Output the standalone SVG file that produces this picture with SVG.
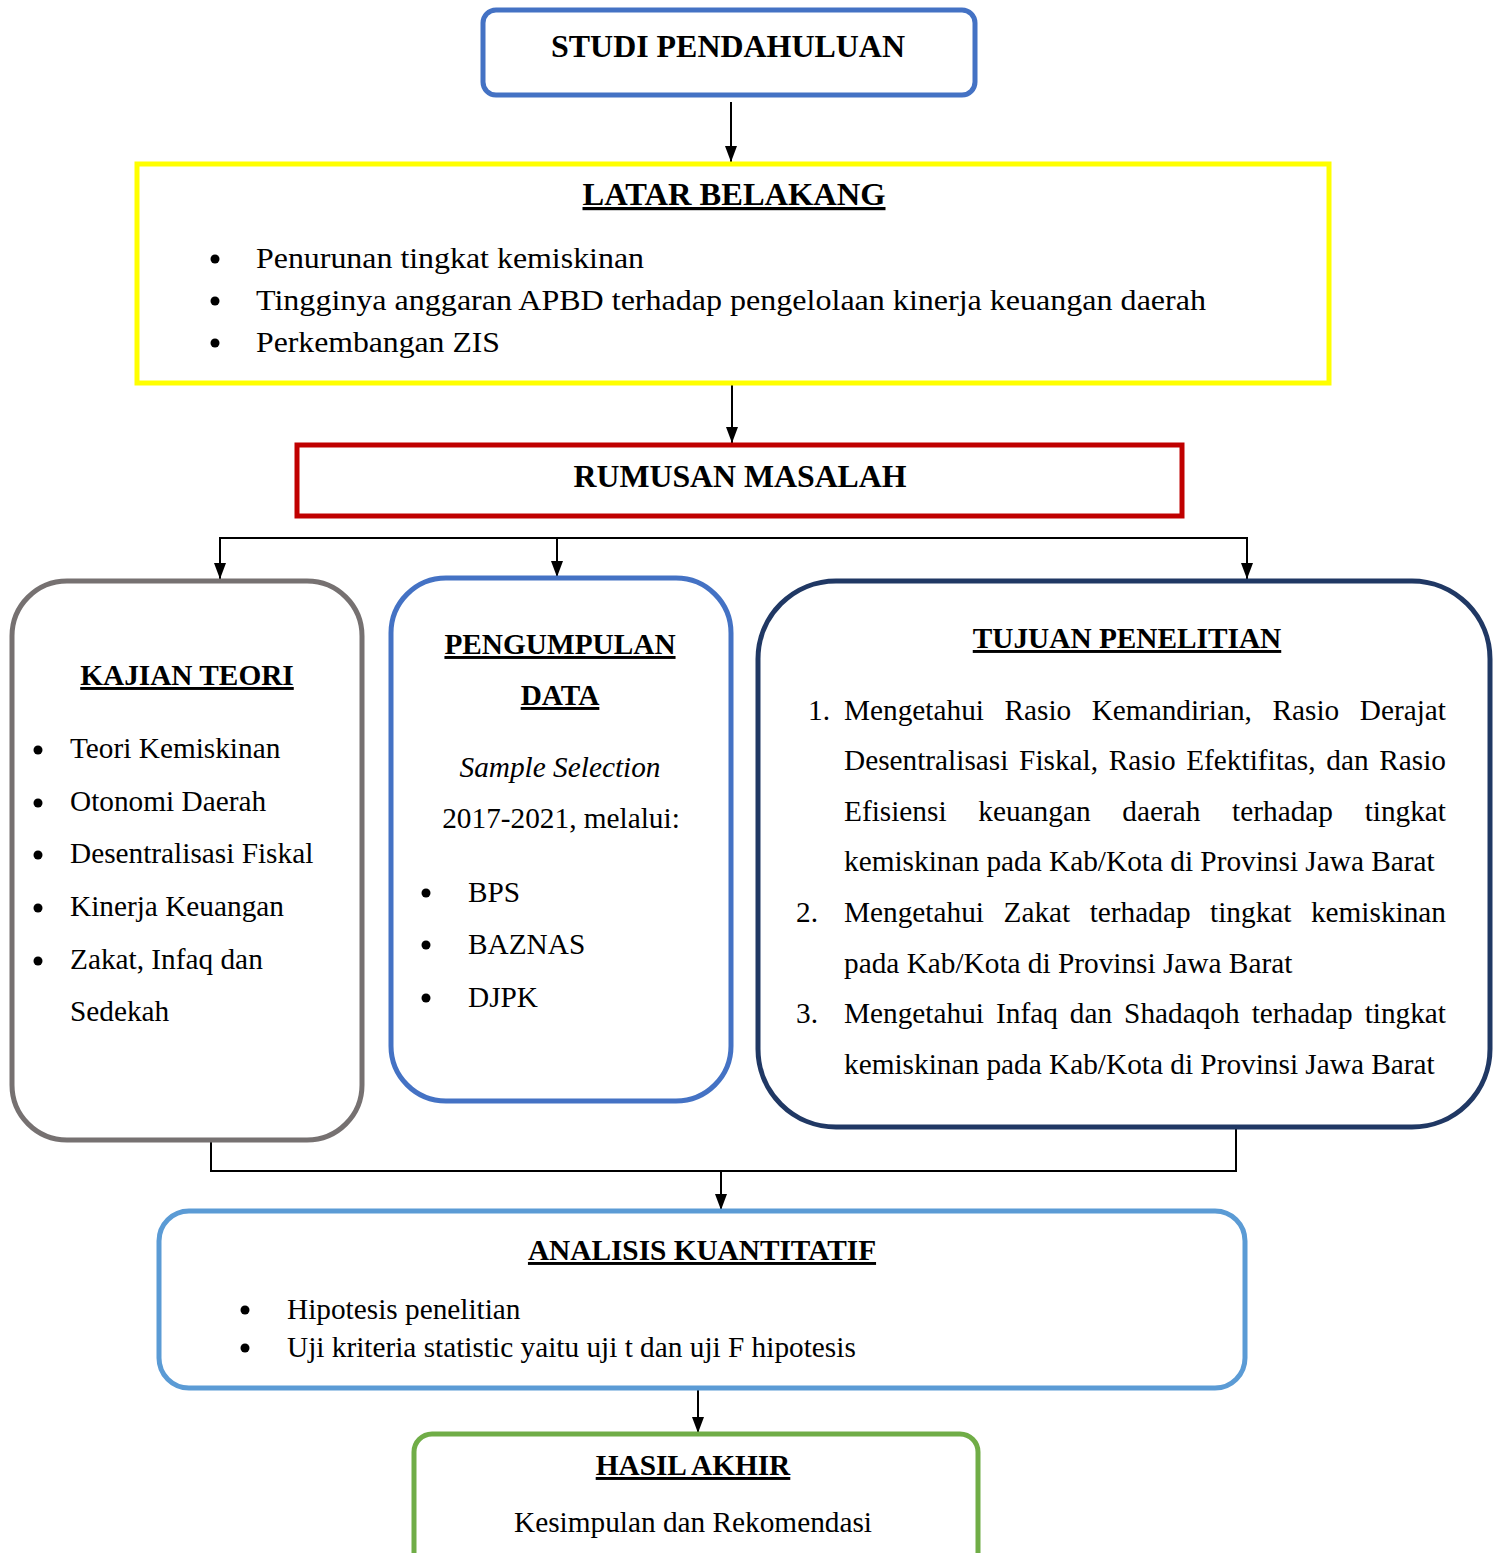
<svg xmlns="http://www.w3.org/2000/svg" width="1494" height="1553" viewBox="0 0 1494 1553">
<style>
text{font-family:"Liberation Serif","Times New Roman",serif;font-size:29.3px;fill:#000}
.b{font-weight:bold}
.u{text-decoration:underline}
.h{font-size:32px}
.box{fill:#fff;stroke-width:5}
.c{fill:none;stroke:#000;stroke-width:2}
.dot{fill:#000}
</style>
<defs>
<marker id="ah" markerUnits="userSpaceOnUse" markerWidth="16" markerHeight="12" refX="16" refY="6" orient="auto" viewBox="0 0 16 12">
<path d="M0,0 L16,6 L0,12 z" fill="#000"/>
</marker>
</defs>
<rect width="1494" height="1553" fill="#fff"/>
<g id="connectors">
<line class="c" x1="731" y1="102" x2="731" y2="162" marker-end="url(#ah)"/>
<line class="c" x1="732" y1="383" x2="732" y2="443" marker-end="url(#ah)"/>
<polyline class="c" points="220,538 1247,538 1247,579" marker-end="url(#ah)"/>
<line class="c" x1="220" y1="537" x2="220" y2="579" marker-end="url(#ah)"/>
<line class="c" x1="557" y1="538" x2="557" y2="577" marker-end="url(#ah)"/>
<polyline class="c" points="211,1140 211,1171 1236,1171 1236,1127"/>
<line class="c" x1="721" y1="1171" x2="721" y2="1210" marker-end="url(#ah)"/>
<line class="c" x1="698" y1="1388" x2="698" y2="1433" marker-end="url(#ah)"/>
</g>
<g id="studi">
<rect class="box" x="483" y="10" width="492" height="85" rx="13" stroke="#4472C4"/>
<text class="b h" x="728" y="57" text-anchor="middle" textLength="354" lengthAdjust="spacingAndGlyphs">STUDI PENDAHULUAN</text>
</g>
<g id="latar">
<rect class="box" x="137" y="164" width="1192" height="219" stroke="#FFFF00"/>
<text class="b u h" x="734" y="205" text-anchor="middle" textLength="303" lengthAdjust="spacingAndGlyphs">LATAR BELAKANG</text>
<circle class="dot" cx="215" cy="259" r="4.5"/>
<circle class="dot" cx="215" cy="301" r="4.5"/>
<circle class="dot" cx="215" cy="343" r="4.5"/>
<text x="256" y="268" textLength="388" lengthAdjust="spacingAndGlyphs">Penurunan tingkat kemiskinan</text>
<text x="256" y="310" textLength="950" lengthAdjust="spacingAndGlyphs">Tingginya anggaran APBD terhadap pengelolaan kinerja keuangan daerah</text>
<text x="256" y="352" textLength="244" lengthAdjust="spacingAndGlyphs">Perkembangan ZIS</text>
</g>
<g id="rumusan">
<rect class="box" x="297" y="445" width="885" height="71" stroke="#C00000"/>
<text class="b h" x="740" y="487" text-anchor="middle" textLength="333" lengthAdjust="spacingAndGlyphs">RUMUSAN MASALAH</text>
</g>
<g id="kajian">
<rect class="box" x="12" y="581" width="350" height="559" rx="55" stroke="#767171"/>
<text class="b u" x="187" y="685" text-anchor="middle">KAJIAN TEORI</text>
<circle class="dot" cx="38" cy="750" r="4.5"/>
<circle class="dot" cx="38" cy="803" r="4.5"/>
<circle class="dot" cx="38" cy="855" r="4.5"/>
<circle class="dot" cx="38" cy="908" r="4.5"/>
<circle class="dot" cx="38" cy="961" r="4.5"/>
<text x="70" y="758">Teori Kemiskinan</text>
<text x="70" y="811">Otonomi Daerah</text>
<text x="70" y="863">Desentralisasi Fiskal</text>
<text x="70" y="916">Kinerja Keuangan</text>
<text x="70" y="969">Zakat, Infaq dan</text>
<text x="70" y="1021">Sedekah</text>
</g>
<g id="pengumpulan">
<rect class="box" x="391" y="578" width="340" height="523" rx="55" stroke="#4472C4"/>
<text class="b u" x="560" y="654" text-anchor="middle">PENGUMPULAN</text>
<text class="b u" x="560" y="705" text-anchor="middle">DATA</text>
<text x="560" y="777" text-anchor="middle" font-style="italic">Sample Selection</text>
<text x="561" y="828" text-anchor="middle">2017-2021, melalui:</text>
<circle class="dot" cx="426" cy="893" r="4.5"/>
<circle class="dot" cx="426" cy="945" r="4.5"/>
<circle class="dot" cx="426" cy="998" r="4.5"/>
<text x="468" y="902">BPS</text>
<text x="468" y="954">BAZNAS</text>
<text x="468" y="1007">DJPK</text>
</g>
<g id="tujuan">
<rect class="box" x="758" y="581" width="732" height="546" rx="78" stroke="#203864"/>
<text class="b u" x="1127" y="648" text-anchor="middle">TUJUAN PENELITIAN</text>
<text x="808" y="720">1.</text>
<text y="720"><tspan x="844">Mengetahui</tspan><tspan x="1004.5">Rasio</tspan><tspan x="1091.7">Kemandirian,</tspan><tspan x="1272.5">Rasio</tspan></text>
<text x="1446" y="720" text-anchor="end">Derajat</text>
<text y="770"><tspan x="844">Desentralisasi</tspan><tspan x="1019.1">Fiskal,</tspan><tspan x="1108.8">Rasio</tspan><tspan x="1186.2">Efektifitas,</tspan><tspan x="1326.3">dan</tspan></text>
<text x="1446" y="770" text-anchor="end">Rasio</text>
<text y="821"><tspan x="844">Efisiensi</tspan><tspan x="978.3">keuangan</tspan><tspan x="1122.3">daerah</tspan><tspan x="1232.1">terhadap</tspan></text>
<text x="1446" y="821" text-anchor="end">tingkat</text>
<text x="844" y="871">kemiskinan pada Kab/Kota di Provinsi Jawa Barat</text>
<text x="796" y="922">2.</text>
<text y="922"><tspan x="844">Mengetahui</tspan><tspan x="1003.5">Zakat</tspan><tspan x="1089.7">terhadap</tspan><tspan x="1210.1">tingkat</tspan></text>
<text x="1446" y="922" text-anchor="end">kemiskinan</text>
<text x="844" y="973">pada Kab/Kota di Provinsi Jawa Barat</text>
<text x="796" y="1023">3.</text>
<text y="1023"><tspan x="844">Mengetahui</tspan><tspan x="996">Infaq</tspan><tspan x="1069.8">dan</tspan><tspan x="1124.1">Shadaqoh</tspan><tspan x="1251.7">terhadap</tspan></text>
<text x="1446" y="1023" text-anchor="end">tingkat</text>
<text x="844" y="1074">kemiskinan pada Kab/Kota di Provinsi Jawa Barat</text>
</g>
<g id="analisis">
<rect class="box" x="159" y="1211" width="1086" height="177" rx="30" stroke="#5B9BD5"/>
<text class="b u" x="702" y="1260" text-anchor="middle">ANALISIS KUANTITATIF</text>
<circle class="dot" cx="245" cy="1310" r="4.5"/>
<circle class="dot" cx="245" cy="1348" r="4.5"/>
<text x="287" y="1319">Hipotesis penelitian</text>
<text x="287" y="1357">Uji kriteria statistic yaitu uji t dan uji F hipotesis</text>
</g>
<g id="hasil">
<rect class="box" x="414" y="1434" width="564" height="160" rx="18" stroke="#70AD47"/>
<text class="b u" x="693" y="1475" text-anchor="middle">HASIL AKHIR</text>
<text x="693" y="1532" text-anchor="middle">Kesimpulan dan Rekomendasi</text>
</g>
</svg>
